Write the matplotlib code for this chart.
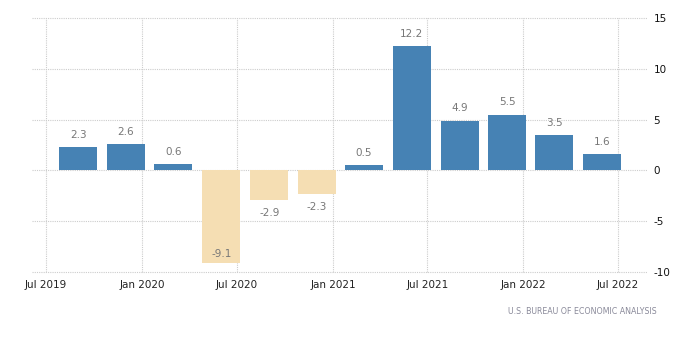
import matplotlib
matplotlib.use("Agg")
import matplotlib.pyplot as plt
import numpy as np
import pandas as pd

plt.rcParams["axes.unicode_minus"] = False

# Data
quarters = ["2019-09-01", "2019-12-01", "2020-03-01", "2020-06-01", "2020-09-01", "2020-12-01",
            "2021-03-01", "2021-06-01", "2021-09-01", "2021-12-01", "2022-03-01", "2022-06-01"]
values = [2.3, 2.6, 0.6, -9.1, -2.9, -2.3, 0.5, 12.2, 4.9, 5.5, 3.5, 1.6]
tick_dates = ["2019-07-01", "2020-01-01", "2020-07-01", "2021-01-01", "2021-07-01", "2022-01-01", "2022-07-01"]
tick_labels = ["Jul 2019", "Jan 2020", "Jul 2020", "Jan 2021", "Jul 2021", "Jan 2022", "Jul 2022"]
y_ticks = [-10, -5, 0, 5, 10, 15]
source = "U.S. BUREAU OF ECONOMIC ANALYSIS"

dates = pd.to_datetime(quarters)
xt = pd.to_datetime(tick_dates)

fig = plt.figure(figsize=(7, 3.64), dpi=100)
ax = fig.add_axes([0.0457, 0.2527, 0.878, 0.6978])

colors = ["#4682b4" if v >= 0 else "#f5deb3" for v in values]
ax.bar(dates, values, width=73, color=colors, zorder=2)

ylo, yhi = -10, 15
ax.set_ylim(ylo, yhi)
ax.set_xlim(pd.Timestamp("2019-06-04"), pd.Timestamp("2022-08-25"))

for d, v in zip(dates, values):
    if v >= 0:
        y = v + 1.2
    else:
        y = v - 1.3
        if y < ylo + 0.3:
            y = v + 0.9
    ax.text(d, y, f"{v:.1f}", ha="center", va="center", fontsize=7.5, color="#777777")

ax.set_xticks(xt)
ax.set_xticklabels(tick_labels)
ax.set_yticks(y_ticks)
ax.yaxis.tick_right()
ax.tick_params(axis="y", length=0, pad=5, labelsize=7.5, labelcolor="#111111")
ax.tick_params(axis="x", length=0, pad=6, labelsize=7.5, labelcolor="#222222")
for t in ax.get_yticklabels():
    t.set_horizontalalignment("left")

ax.grid(True, color="#cccccc", linestyle=(0, (1, 1)), linewidth=0.8, zorder=0)
ax.set_axisbelow(True)
for line in ax.get_ygridlines() + ax.get_xgridlines():
    line.set_clip_on(False)
for s in ax.spines.values():
    s.set_visible(False)

fig.text(657 / 700, 1 - 312 / 364, source, ha="right", va="center", fontsize=5.7, color="#8a8a9a")

fig.savefig("out.png", dpi=100)
